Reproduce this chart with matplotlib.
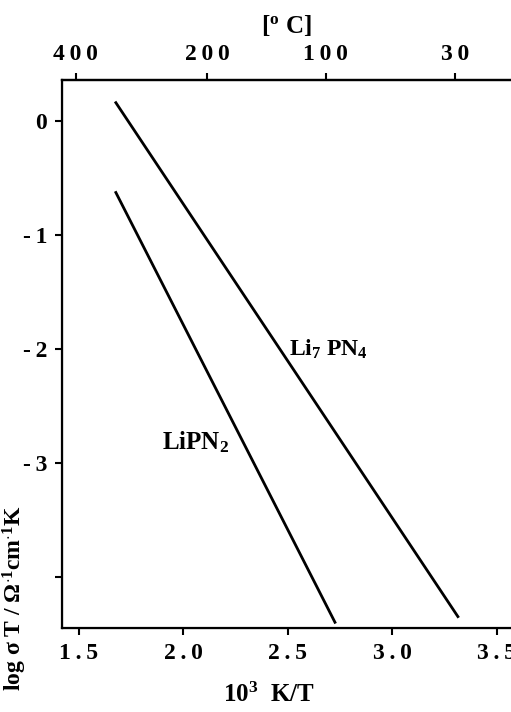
import numpy as np
import matplotlib
matplotlib.use('Agg')
from matplotlib import pyplot as plt

plt.rcParams['font.family'] = ['Liberation Serif', 'DejaVu Serif']
plt.rcParams['font.weight'] = 'bold'
plt.rcParams['mathtext.fontset'] = 'custom'
plt.rcParams['mathtext.rm'] = 'Liberation Serif:bold'
plt.rcParams['mathtext.it'] = 'Liberation Serif:bold'
plt.rcParams['mathtext.bf'] = 'Liberation Serif:bold'

# end points of the two Arrhenius lines (10^3 K/T, log sigma T)
li7pn4_x = [1.677, 3.313]
li7pn4_y = [0.158, -4.35]
lipn2_x = [1.677, 2.725]
lipn2_y = [-0.63, -4.40]

bottom_ticks = [1.5, 2.0, 2.5, 3.0, 3.5]
bottom_labels = ['1.5', '2.0', '2.5', '3.0', '3.5']
left_ticks = [0, -1, -2, -3, -4]
left_labels = ['0', '-1', '-2', '-3', '']
top_celsius = [400, 200, 100, 30]


def spaced(s):
    # the original print has loosely spaced digits
    return '\u2009'.join(s)


fig = plt.figure(figsize=(5.11, 7.12), dpi=100)
ax = fig.add_axes([0.122, 0.118, 0.878, 0.769])

ax.plot(li7pn4_x, li7pn4_y, color='black', lw=2.0)
ax.plot(lipn2_x, lipn2_y, color='black', lw=2.0)

ax.text(2.505, -2.01, r'Li$_7$ PN$_4$', fontsize=17, fontweight='bold', va='center')
ax.text(1.90, -2.82, r'LiPN$_2$', fontsize=18, fontweight='bold', va='center')

ax.set_xlim(1.421, 3.567)
ax.set_ylim(-4.45, 0.353)
ax.set_xticks(bottom_ticks)
ax.set_xticklabels([spaced(s) for s in bottom_labels])
ax.set_yticks(left_ticks)
ax.set_yticklabels([spaced(s) for s in left_labels])
ax.spines['right'].set_visible(False)
for s in ['left', 'bottom', 'top']:
    ax.spines[s].set_linewidth(1.6)
ax.tick_params(direction='out', length=5, width=1.5, labelsize=17, pad=6)

ax.set_xlabel(r'10$^3$  K/T', fontsize=18, fontweight='bold')
ax.xaxis.set_label_coords(0.46, -0.1)
ax.set_ylabel(r'log $\sigma$ T / $\Omega^{\cdot 1}$cm$^{\cdot 1}$K', fontsize=17,
              fontweight='bold')
ax.yaxis.set_label_coords(-0.075, 0.055)

top = ax.twiny()
top.set_xlim(ax.get_xlim())
top.set_xticks([1000.0 / (t + 273.15) for t in top_celsius])
top.set_xticklabels([spaced(str(t)) for t in top_celsius])
top.spines['right'].set_visible(False)
top.spines['top'].set_linewidth(1.6)
top.tick_params(direction='out', length=5, width=1.5, labelsize=17, pad=6)
top.set_xlabel(r'[$^{\rm o}$ C]', fontsize=18, fontweight='bold', labelpad=8)

fig.savefig('out.png', dpi=100)
